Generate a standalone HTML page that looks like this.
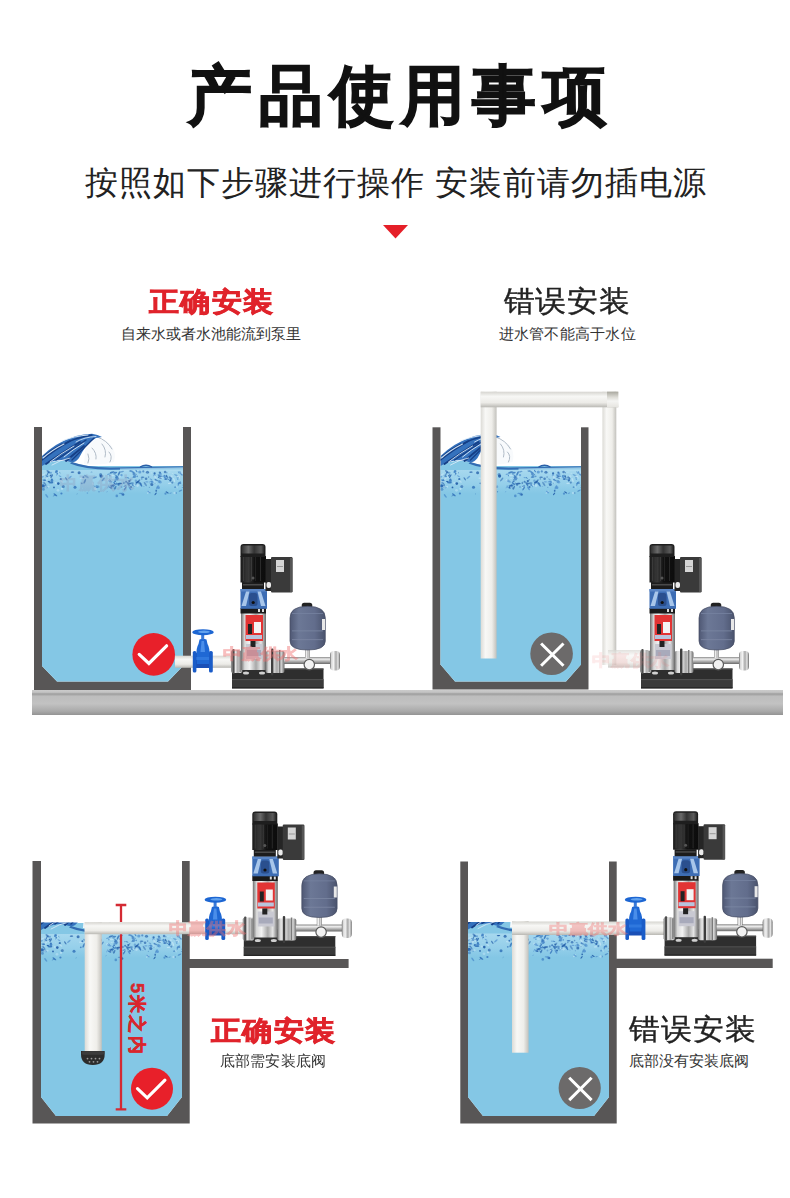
<!DOCTYPE html>
<html><head><meta charset="utf-8">
<style>
html,body{margin:0;padding:0;background:#fff;}
body{width:790px;height:1198px;position:relative;overflow:hidden;font-family:"Liberation Sans",sans-serif;}
.t{position:absolute;white-space:nowrap;line-height:1;transform-origin:0 0;}
#art{position:absolute;left:0;top:0;}
</style></head>
<body>
<svg id="art" width="790" height="1198" viewBox="0 0 790 1198">
<defs>
  <linearGradient id="slab" x1="0" y1="0" x2="0" y2="1">
    <stop offset="0" stop-color="#cbcbcb"/>
    <stop offset="0.09" stop-color="#c4c4c4"/>
    <stop offset="0.16" stop-color="#9d9d9d"/>
    <stop offset="0.25" stop-color="#bdbdbd"/>
    <stop offset="0.55" stop-color="#c2c2c2"/>
    <stop offset="0.85" stop-color="#a9a9a9"/>
    <stop offset="1" stop-color="#939393"/>
  </linearGradient>

  <linearGradient id="steelV" x1="0" y1="0" x2="1" y2="0">
    <stop offset="0" stop-color="#6e6e6e"/>
    <stop offset="0.15" stop-color="#d8d8d8"/>
    <stop offset="0.35" stop-color="#f2f2f2"/>
    <stop offset="0.6" stop-color="#a8a8a8"/>
    <stop offset="0.8" stop-color="#e6e6e6"/>
    <stop offset="1" stop-color="#6a6a6a"/>
  </linearGradient>
  <linearGradient id="steelH" x1="0" y1="0" x2="0" y2="1">
    <stop offset="0" stop-color="#8a8a8a"/>
    <stop offset="0.3" stop-color="#eeeeee"/>
    <stop offset="0.6" stop-color="#b5b5b5"/>
    <stop offset="1" stop-color="#6a6a6a"/>
  </linearGradient>
  <linearGradient id="pipeH" x1="0" y1="0" x2="0" y2="1">
    <stop offset="0" stop-color="#d6d5d0"/>
    <stop offset="0.3" stop-color="#f7f7f5"/>
    <stop offset="0.7" stop-color="#ecebe7"/>
    <stop offset="1" stop-color="#b9b8b3"/>
  </linearGradient>
  <linearGradient id="pipeV" x1="0" y1="0" x2="1" y2="0">
    <stop offset="0" stop-color="#dcdbd6"/>
    <stop offset="0.3" stop-color="#f8f8f6"/>
    <stop offset="0.7" stop-color="#efeeea"/>
    <stop offset="1" stop-color="#c2c1bc"/>
  </linearGradient>
  <linearGradient id="motorG" x1="0" y1="0" x2="1" y2="0">
    <stop offset="0" stop-color="#1a1a1a"/>
    <stop offset="0.3" stop-color="#3a3a3a"/>
    <stop offset="0.55" stop-color="#111"/>
    <stop offset="1" stop-color="#0c0c0c"/>
  </linearGradient>
  <linearGradient id="capG" x1="0" y1="0" x2="1" y2="0">
    <stop offset="0" stop-color="#2e2e2e"/>
    <stop offset="0.3" stop-color="#6a6a6a"/>
    <stop offset="0.55" stop-color="#333"/>
    <stop offset="0.85" stop-color="#5a5a5a"/>
    <stop offset="1" stop-color="#222"/>
  </linearGradient>
  <linearGradient id="tankG" x1="0" y1="0" x2="1" y2="0">
    <stop offset="0" stop-color="#4f5874"/>
    <stop offset="0.25" stop-color="#6c7896"/>
    <stop offset="0.7" stop-color="#626d8c"/>
    <stop offset="1" stop-color="#4a536d"/>
  </linearGradient>
  <linearGradient id="blueG" x1="0" y1="0" x2="1" y2="0">
    <stop offset="0" stop-color="#2d5a9c"/>
    <stop offset="0.25" stop-color="#7aa5dc"/>
    <stop offset="0.5" stop-color="#3a6ab0"/>
    <stop offset="0.75" stop-color="#7aa5dc"/>
    <stop offset="1" stop-color="#2d5a9c"/>
  </linearGradient>
  <linearGradient id="hazeG" x1="0" y1="0" x2="0" y2="1"><stop offset="0" stop-color="#c4e6f6" stop-opacity="0.55"/><stop offset="0.6" stop-color="#b4def3" stop-opacity="0.35"/><stop offset="1" stop-color="#a8d8f0" stop-opacity="0"/></linearGradient>
  <linearGradient id="elbowG" x1="0" y1="0" x2="0" y2="1"><stop offset="0" stop-color="#a9a89f"/><stop offset="0.35" stop-color="#dddcd6"/><stop offset="0.6" stop-color="#f4f4f2"/><stop offset="1" stop-color="#e6e5e0"/></linearGradient>
  <filter id="wmblur" x="-10%" y="-30%" width="120%" height="160%"><feGaussianBlur stdDeviation="0.7"/></filter>
  <clipPath id="clipTL"><rect x="42" y="427" width="141" height="263"/></clipPath>
  <clipPath id="clipTR"><rect x="440.5" y="427" width="140.5" height="263"/></clipPath>
  <clipPath id="clipBL"><rect x="41" y="922.5" width="141" height="194"/></clipPath>
  <clipPath id="clipBR"><rect x="468" y="922" width="141" height="194"/></clipPath>
<!--WAVEDEF--><g id="wave"><path d="M42,470 L42,465 Q50,461.5 61,460.5 Q70,461 78,464 Q90,467.5 110,468 L110,470 Z" fill="#84c7e5"/><path d="M86,440 Q100,436 110,444 Q117,452 114,462 Q100,466 84,464 Z" fill="#f8fafc"/><g fill="none" stroke="#9eabb9" stroke-width="1" stroke-linecap="round" opacity="0.8"><path d="M97,437 Q107,440 112,449"/><path d="M102,444 Q107,450 105,457"/><path d="M109,452 Q113,456 110,462"/><path d="M92,448 Q97,453 96,459"/><path d="M88,454 Q90,459 88,463"/></g><path d="M42,456 Q48,450 56,445 Q66,439 76,436 Q84,434 92,433.8 Q98,434.5 102,437 L96,438 Q90,441 86,446 Q82,452 79,458 Q76,462 72,462.5 Q66,460.5 61,460 Q51,460.5 42,466 Z" fill="#3572bd"/><g fill="none" stroke="#153f86" stroke-linecap="round"><path d="M42,460 Q54,450 70,441" stroke-width="1.6"/><path d="M46,464 Q60,454 80,442" stroke-width="1.8"/><path d="M56,460 Q68,452 86,440" stroke-width="1.4"/><path d="M62,445 Q74,438 92,435" stroke-width="1.3"/><path d="M66,461 Q74,454 84,446" stroke-width="1.8"/><path d="M72,460 Q80,452 94,438" stroke-width="1.3"/><path d="M44,456 Q52,449 62,444" stroke-width="1.2"/></g><g fill="none" stroke="#dcebf8" stroke-linecap="round" opacity="0.9"><path d="M43,458 Q52,450 64,444" stroke-width="1.1"/><path d="M50,462 Q60,454 74,446" stroke-width="1.0"/><path d="M62,441 Q74,436 88,435" stroke-width="1.0"/><path d="M64,457 Q72,450 84,443" stroke-width="1.0"/><path d="M76,442 Q84,437 96,436.5" stroke-width="0.9"/><path d="M52,465 Q60,460 70,458" stroke-width="0.9"/></g><path d="M72,462 Q86,467 110,467.6 L183,466.2 L183,468.4 L110,469.8 Q84,469.5 70,463.5 Z" fill="#2a63ad" opacity="0.9"/><path d="M120,468.4 L183,467.2 L183,470.5 L120,470.5 Z" fill="#a7d8ef" opacity="0.8"/><path d="M140,467 Q146,463.5 152,467" fill="none" stroke="#2a5fa8" stroke-width="1.3"/><rect x="42" y="470" width="141" height="24" fill="url(#hazeG)"/><g><circle cx="172.3" cy="482.6" r="1.1" fill="#1f5aa6" opacity="0.54"/><ellipse cx="109.1" cy="486.3" rx="1.2" ry="0.4" transform="rotate(43 109.1 486.3)" fill="#4f8fcf" opacity="0.59"/><circle cx="139.8" cy="472.0" r="1.6" fill="#4f8fcf" opacity="0.74"/><circle cx="116.5" cy="472.5" r="0.7" fill="#3a7cc2" opacity="0.72"/><circle cx="54.0" cy="487.4" r="0.9" fill="#1f5aa6" opacity="0.90"/><circle cx="141.8" cy="478.9" r="0.8" fill="#2563ad" opacity="0.46"/><circle cx="57.2" cy="473.7" r="0.8" fill="#2f6fb8" opacity="0.88"/><circle cx="42.1" cy="476.2" r="1.5" fill="#4f8fcf" opacity="0.62"/><ellipse cx="44.1" cy="481.3" rx="2.6" ry="0.9" transform="rotate(-62 44.1 481.3)" fill="#3a7cc2" opacity="0.56"/><circle cx="154.4" cy="475.4" r="1.1" fill="#4f8fcf" opacity="0.68"/><ellipse cx="150.5" cy="481.5" rx="1.6" ry="0.6" transform="rotate(-32 150.5 481.5)" fill="#4f8fcf" opacity="0.64"/><ellipse cx="166.8" cy="476.3" rx="1.6" ry="0.6" transform="rotate(69 166.8 476.3)" fill="#1f5aa6" opacity="0.74"/><ellipse cx="150.9" cy="479.2" rx="1.4" ry="0.5" transform="rotate(19 150.9 479.2)" fill="#2f6fb8" opacity="0.48"/><ellipse cx="44.2" cy="480.2" rx="2.0" ry="0.7" transform="rotate(10 44.2 480.2)" fill="#3a7cc2" opacity="0.88"/><ellipse cx="164.2" cy="475.6" rx="1.1" ry="0.4" transform="rotate(-43 164.2 475.6)" fill="#3a7cc2" opacity="0.82"/><circle cx="176.0" cy="493.1" r="1.0" fill="#2f6fb8" opacity="0.50"/><ellipse cx="169.6" cy="483.3" rx="1.8" ry="0.6" transform="rotate(-3 169.6 483.3)" fill="#bfe3f5" opacity="0.89"/><ellipse cx="134.1" cy="486.4" rx="1.0" ry="0.3" transform="rotate(-68 134.1 486.4)" fill="#3a7cc2" opacity="0.86"/><ellipse cx="50.5" cy="475.4" rx="1.5" ry="0.5" transform="rotate(-51 50.5 475.4)" fill="#1f5aa6" opacity="0.89"/><ellipse cx="145.3" cy="484.0" rx="2.6" ry="0.9" transform="rotate(57 145.3 484.0)" fill="#1f5aa6" opacity="0.47"/><ellipse cx="131.7" cy="483.1" rx="2.2" ry="0.8" transform="rotate(-7 131.7 483.1)" fill="#2563ad" opacity="0.51"/><circle cx="177.8" cy="479.5" r="0.6" fill="#4f8fcf" opacity="0.86"/><ellipse cx="130.1" cy="480.6" rx="1.9" ry="0.7" transform="rotate(-54 130.1 480.6)" fill="#1f5aa6" opacity="0.48"/><ellipse cx="115.1" cy="483.9" rx="1.4" ry="0.5" transform="rotate(28 115.1 483.9)" fill="#2f6fb8" opacity="0.67"/><ellipse cx="112.1" cy="486.4" rx="2.6" ry="0.9" transform="rotate(-50 112.1 486.4)" fill="#2563ad" opacity="0.85"/><ellipse cx="128.3" cy="484.0" rx="2.3" ry="0.8" transform="rotate(55 128.3 484.0)" fill="#2563ad" opacity="0.75"/><ellipse cx="155.6" cy="493.9" rx="1.6" ry="0.6" transform="rotate(-51 155.6 493.9)" fill="#1f5aa6" opacity="0.86"/><ellipse cx="91.5" cy="472.0" rx="1.0" ry="0.3" transform="rotate(-4 91.5 472.0)" fill="#2563ad" opacity="0.82"/><ellipse cx="115.3" cy="487.8" rx="2.2" ry="0.8" transform="rotate(-66 115.3 487.8)" fill="#1f5aa6" opacity="0.65"/><circle cx="165.1" cy="472.0" r="1.3" fill="#1f5aa6" opacity="0.61"/><circle cx="121.5" cy="487.0" r="0.9" fill="#3a7cc2" opacity="0.46"/><circle cx="48.6" cy="486.7" r="1.0" fill="#bfe3f5" opacity="0.69"/><ellipse cx="69.9" cy="477.4" rx="2.2" ry="0.8" transform="rotate(-38 69.9 477.4)" fill="#4f8fcf" opacity="0.69"/><circle cx="151.8" cy="484.5" r="1.5" fill="#1f5aa6" opacity="0.73"/><circle cx="170.3" cy="480.4" r="1.1" fill="#1f5aa6" opacity="0.81"/><ellipse cx="157.4" cy="487.0" rx="2.2" ry="0.8" transform="rotate(-58 157.4 487.0)" fill="#3a7cc2" opacity="0.56"/><circle cx="143.3" cy="471.4" r="1.1" fill="#2f6fb8" opacity="0.65"/><ellipse cx="150.3" cy="483.2" rx="0.9" ry="0.3" transform="rotate(5 150.3 483.2)" fill="#2f6fb8" opacity="0.64"/><ellipse cx="137.6" cy="482.0" rx="2.5" ry="0.9" transform="rotate(-39 137.6 482.0)" fill="#1f5aa6" opacity="0.88"/><circle cx="116.3" cy="478.3" r="1.3" fill="#bfe3f5" opacity="0.52"/><circle cx="169.9" cy="477.4" r="1.2" fill="#1f5aa6" opacity="0.54"/><ellipse cx="178.6" cy="484.1" rx="1.9" ry="0.7" transform="rotate(-69 178.6 484.1)" fill="#3a7cc2" opacity="0.63"/><circle cx="181.5" cy="474.0" r="0.6" fill="#3a7cc2" opacity="0.48"/><ellipse cx="108.7" cy="474.2" rx="1.7" ry="0.6" transform="rotate(-11 108.7 474.2)" fill="#4f8fcf" opacity="0.69"/><ellipse cx="46.1" cy="477.5" rx="2.2" ry="0.8" transform="rotate(-68 46.1 477.5)" fill="#2f6fb8" opacity="0.47"/><ellipse cx="112.5" cy="485.6" rx="2.4" ry="0.9" transform="rotate(4 112.5 485.6)" fill="#1f5aa6" opacity="0.56"/><circle cx="131.0" cy="487.0" r="1.1" fill="#1f5aa6" opacity="0.73"/><ellipse cx="86.4" cy="476.5" rx="2.7" ry="1.0" transform="rotate(32 86.4 476.5)" fill="#2f6fb8" opacity="0.51"/><circle cx="159.3" cy="481.5" r="1.4" fill="#3a7cc2" opacity="0.54"/><circle cx="154.6" cy="473.4" r="1.1" fill="#2563ad" opacity="0.86"/><circle cx="58.3" cy="483.6" r="1.3" fill="#1f5aa6" opacity="0.90"/><circle cx="155.2" cy="483.1" r="0.5" fill="#1f5aa6" opacity="0.73"/><circle cx="109.9" cy="475.7" r="0.6" fill="#3a7cc2" opacity="0.83"/><circle cx="172.7" cy="473.4" r="0.6" fill="#bfe3f5" opacity="0.66"/><ellipse cx="114.7" cy="481.8" rx="2.0" ry="0.7" transform="rotate(-42 114.7 481.8)" fill="#2f6fb8" opacity="0.74"/><ellipse cx="94.2" cy="486.1" rx="1.0" ry="0.4" transform="rotate(48 94.2 486.1)" fill="#2f6fb8" opacity="0.60"/><circle cx="165.5" cy="493.7" r="1.1" fill="#3a7cc2" opacity="0.68"/><ellipse cx="155.5" cy="477.5" rx="2.6" ry="0.9" transform="rotate(61 155.5 477.5)" fill="#bfe3f5" opacity="0.78"/><circle cx="60.8" cy="479.2" r="1.1" fill="#2563ad" opacity="0.80"/><circle cx="51.9" cy="479.5" r="1.0" fill="#2f6fb8" opacity="0.85"/><ellipse cx="169.3" cy="472.2" rx="1.4" ry="0.5" transform="rotate(-13 169.3 472.2)" fill="#bfe3f5" opacity="0.58"/><circle cx="114.6" cy="483.4" r="0.7" fill="#2f6fb8" opacity="0.79"/><circle cx="45.2" cy="486.4" r="1.3" fill="#2563ad" opacity="0.65"/><circle cx="149.3" cy="487.2" r="0.5" fill="#2563ad" opacity="0.56"/><ellipse cx="119.6" cy="483.7" rx="2.7" ry="0.9" transform="rotate(-8 119.6 483.7)" fill="#1f5aa6" opacity="0.83"/><circle cx="132.9" cy="484.7" r="1.2" fill="#2f6fb8" opacity="0.62"/><circle cx="126.1" cy="481.7" r="1.0" fill="#2563ad" opacity="0.69"/><ellipse cx="134.4" cy="485.0" rx="1.4" ry="0.5" transform="rotate(38 134.4 485.0)" fill="#bfe3f5" opacity="0.79"/><circle cx="124.6" cy="486.8" r="0.9" fill="#bfe3f5" opacity="0.63"/><circle cx="147.5" cy="472.3" r="1.6" fill="#2563ad" opacity="0.48"/><ellipse cx="179.2" cy="477.1" rx="1.8" ry="0.6" transform="rotate(64 179.2 477.1)" fill="#bfe3f5" opacity="0.86"/><ellipse cx="49.1" cy="481.4" rx="1.1" ry="0.4" transform="rotate(-19 49.1 481.4)" fill="#2f6fb8" opacity="0.61"/><ellipse cx="61.7" cy="481.4" rx="2.0" ry="0.7" transform="rotate(39 61.7 481.4)" fill="#bfe3f5" opacity="0.71"/><circle cx="116.8" cy="495.9" r="1.3" fill="#3a7cc2" opacity="0.67"/><circle cx="161.4" cy="477.9" r="1.2" fill="#bfe3f5" opacity="0.70"/><ellipse cx="77.1" cy="493.9" rx="0.9" ry="0.3" transform="rotate(-66 77.1 493.9)" fill="#2f6fb8" opacity="0.45"/><ellipse cx="47.4" cy="476.6" rx="1.4" ry="0.5" transform="rotate(-37 47.4 476.6)" fill="#2f6fb8" opacity="0.86"/><circle cx="180.4" cy="483.1" r="0.9" fill="#2563ad" opacity="0.60"/><circle cx="160.2" cy="472.9" r="0.6" fill="#1f5aa6" opacity="0.83"/><ellipse cx="63.6" cy="485.9" rx="1.4" ry="0.5" transform="rotate(22 63.6 485.9)" fill="#bfe3f5" opacity="0.82"/><circle cx="123.9" cy="482.6" r="0.9" fill="#1f5aa6" opacity="0.49"/><circle cx="151.3" cy="472.9" r="0.7" fill="#bfe3f5" opacity="0.72"/><ellipse cx="166.3" cy="476.5" rx="2.1" ry="0.7" transform="rotate(29 166.3 476.5)" fill="#2563ad" opacity="0.61"/><circle cx="122.3" cy="494.0" r="1.5" fill="#4f8fcf" opacity="0.69"/><circle cx="137.5" cy="485.6" r="1.4" fill="#bfe3f5" opacity="0.70"/><ellipse cx="45.1" cy="483.9" rx="1.9" ry="0.7" transform="rotate(48 45.1 483.9)" fill="#1f5aa6" opacity="0.58"/><circle cx="56.9" cy="478.8" r="0.5" fill="#bfe3f5" opacity="0.51"/><ellipse cx="133.5" cy="477.1" rx="1.3" ry="0.4" transform="rotate(-21 133.5 477.1)" fill="#1f5aa6" opacity="0.60"/><circle cx="155.8" cy="479.3" r="0.7" fill="#4f8fcf" opacity="0.69"/><circle cx="158.5" cy="487.7" r="1.4" fill="#4f8fcf" opacity="0.83"/><ellipse cx="177.0" cy="487.0" rx="1.8" ry="0.6" transform="rotate(59 177.0 487.0)" fill="#bfe3f5" opacity="0.45"/><ellipse cx="171.1" cy="477.1" rx="1.2" ry="0.4" transform="rotate(-41 171.1 477.1)" fill="#bfe3f5" opacity="0.62"/><ellipse cx="178.7" cy="472.5" rx="1.4" ry="0.5" transform="rotate(59 178.7 472.5)" fill="#2f6fb8" opacity="0.59"/><ellipse cx="125.0" cy="486.0" rx="1.7" ry="0.6" transform="rotate(-31 125.0 486.0)" fill="#1f5aa6" opacity="0.55"/><ellipse cx="66.3" cy="478.8" rx="1.9" ry="0.7" transform="rotate(54 66.3 478.8)" fill="#1f5aa6" opacity="0.67"/><ellipse cx="170.9" cy="479.6" rx="1.9" ry="0.7" transform="rotate(-63 170.9 479.6)" fill="#2f6fb8" opacity="0.67"/><ellipse cx="116.4" cy="483.9" rx="1.4" ry="0.5" transform="rotate(-68 116.4 483.9)" fill="#2f6fb8" opacity="0.75"/><circle cx="108.6" cy="480.3" r="1.4" fill="#bfe3f5" opacity="0.64"/><circle cx="100.6" cy="474.6" r="1.5" fill="#1f5aa6" opacity="0.51"/><ellipse cx="129.3" cy="483.9" rx="0.9" ry="0.3" transform="rotate(45 129.3 483.9)" fill="#1f5aa6" opacity="0.80"/><circle cx="55.7" cy="483.0" r="1.0" fill="#bfe3f5" opacity="0.71"/><ellipse cx="84.8" cy="481.4" rx="2.6" ry="0.9" transform="rotate(-65 84.8 481.4)" fill="#2f6fb8" opacity="0.80"/><ellipse cx="182.6" cy="487.7" rx="1.0" ry="0.3" transform="rotate(-15 182.6 487.7)" fill="#2f6fb8" opacity="0.76"/><ellipse cx="107.1" cy="491.7" rx="0.9" ry="0.3" transform="rotate(-29 107.1 491.7)" fill="#4f8fcf" opacity="0.77"/><circle cx="58.0" cy="490.3" r="1.4" fill="#bfe3f5" opacity="0.54"/><ellipse cx="118.1" cy="478.5" rx="1.5" ry="0.5" transform="rotate(-44 118.1 478.5)" fill="#4f8fcf" opacity="0.70"/><ellipse cx="108.2" cy="487.0" rx="1.7" ry="0.6" transform="rotate(-57 108.2 487.0)" fill="#4f8fcf" opacity="0.49"/><circle cx="98.7" cy="485.8" r="0.6" fill="#3a7cc2" opacity="0.46"/><ellipse cx="103.2" cy="479.5" rx="2.4" ry="0.8" transform="rotate(-49 103.2 479.5)" fill="#1f5aa6" opacity="0.51"/><ellipse cx="139.5" cy="483.1" rx="2.6" ry="0.9" transform="rotate(28 139.5 483.1)" fill="#1f5aa6" opacity="0.46"/><ellipse cx="180.5" cy="490.7" rx="2.0" ry="0.7" transform="rotate(-27 180.5 490.7)" fill="#2f6fb8" opacity="0.57"/><ellipse cx="142.6" cy="477.3" rx="1.9" ry="0.7" transform="rotate(0 142.6 477.3)" fill="#2563ad" opacity="0.70"/><circle cx="62.0" cy="488.8" r="1.1" fill="#bfe3f5" opacity="0.77"/><ellipse cx="122.0" cy="471.7" rx="2.1" ry="0.7" transform="rotate(-12 122.0 471.7)" fill="#2f6fb8" opacity="0.51"/><ellipse cx="165.0" cy="477.7" rx="2.5" ry="0.9" transform="rotate(57 165.0 477.7)" fill="#4f8fcf" opacity="0.89"/><circle cx="118.6" cy="485.0" r="1.1" fill="#2563ad" opacity="0.53"/><circle cx="168.5" cy="479.4" r="0.7" fill="#2f6fb8" opacity="0.58"/><ellipse cx="159.1" cy="475.6" rx="1.9" ry="0.7" transform="rotate(40 159.1 475.6)" fill="#2f6fb8" opacity="0.65"/><ellipse cx="148.6" cy="492.2" rx="2.0" ry="0.7" transform="rotate(-42 148.6 492.2)" fill="#bfe3f5" opacity="0.81"/><ellipse cx="47.3" cy="487.8" rx="1.1" ry="0.4" transform="rotate(-12 47.3 487.8)" fill="#4f8fcf" opacity="0.72"/><ellipse cx="130.0" cy="488.2" rx="2.3" ry="0.8" transform="rotate(57 130.0 488.2)" fill="#4f8fcf" opacity="0.85"/><circle cx="115.4" cy="481.5" r="0.5" fill="#2f6fb8" opacity="0.58"/><circle cx="87.4" cy="493.1" r="0.8" fill="#4f8fcf" opacity="0.56"/><circle cx="179.1" cy="482.9" r="0.6" fill="#3a7cc2" opacity="0.70"/><circle cx="174.6" cy="493.0" r="1.3" fill="#bfe3f5" opacity="0.62"/><circle cx="121.5" cy="475.1" r="1.2" fill="#4f8fcf" opacity="0.71"/><ellipse cx="48.5" cy="471.8" rx="2.5" ry="0.9" transform="rotate(39 48.5 471.8)" fill="#2563ad" opacity="0.60"/><ellipse cx="117.2" cy="476.9" rx="2.6" ry="0.9" transform="rotate(44 117.2 476.9)" fill="#2f6fb8" opacity="0.74"/><circle cx="177.6" cy="477.8" r="1.0" fill="#3a7cc2" opacity="0.60"/><circle cx="151.8" cy="481.4" r="0.7" fill="#2563ad" opacity="0.50"/><ellipse cx="112.7" cy="478.4" rx="1.4" ry="0.5" transform="rotate(2 112.7 478.4)" fill="#bfe3f5" opacity="0.69"/><circle cx="136.2" cy="482.6" r="0.6" fill="#1f5aa6" opacity="0.48"/><ellipse cx="43.0" cy="485.7" rx="1.9" ry="0.7" transform="rotate(-30 43.0 485.7)" fill="#4f8fcf" opacity="0.81"/><circle cx="148.6" cy="477.1" r="0.8" fill="#1f5aa6" opacity="0.46"/><circle cx="63.3" cy="486.5" r="1.5" fill="#1f5aa6" opacity="0.62"/><ellipse cx="112.5" cy="475.5" rx="1.9" ry="0.7" transform="rotate(-2 112.5 475.5)" fill="#bfe3f5" opacity="0.86"/><circle cx="46.5" cy="478.3" r="1.4" fill="#bfe3f5" opacity="0.76"/><ellipse cx="176.2" cy="475.3" rx="2.3" ry="0.8" transform="rotate(24 176.2 475.3)" fill="#3a7cc2" opacity="0.50"/><ellipse cx="119.2" cy="477.4" rx="2.2" ry="0.8" transform="rotate(-39 119.2 477.4)" fill="#bfe3f5" opacity="0.56"/><ellipse cx="123.8" cy="483.5" rx="0.9" ry="0.3" transform="rotate(-7 123.8 483.5)" fill="#1f5aa6" opacity="0.89"/><ellipse cx="166.2" cy="479.1" rx="2.0" ry="0.7" transform="rotate(-8 166.2 479.1)" fill="#1f5aa6" opacity="0.67"/><circle cx="79.1" cy="472.8" r="1.5" fill="#1f5aa6" opacity="0.74"/><ellipse cx="143.8" cy="486.6" rx="1.0" ry="0.3" transform="rotate(17 143.8 486.6)" fill="#4f8fcf" opacity="0.47"/><circle cx="116.1" cy="477.6" r="1.1" fill="#2f6fb8" opacity="0.74"/><ellipse cx="112.1" cy="487.5" rx="2.0" ry="0.7" transform="rotate(-19 112.1 487.5)" fill="#4f8fcf" opacity="0.48"/><ellipse cx="72.5" cy="472.1" rx="1.8" ry="0.6" transform="rotate(-6 72.5 472.1)" fill="#1f5aa6" opacity="0.89"/><ellipse cx="147.0" cy="472.0" rx="1.3" ry="0.5" transform="rotate(-28 147.0 472.0)" fill="#1f5aa6" opacity="0.51"/><ellipse cx="46.8" cy="495.9" rx="2.2" ry="0.8" transform="rotate(50 46.8 495.9)" fill="#3a7cc2" opacity="0.58"/><ellipse cx="170.6" cy="493.1" rx="1.2" ry="0.4" transform="rotate(-17 170.6 493.1)" fill="#4f8fcf" opacity="0.87"/><ellipse cx="48.9" cy="481.5" rx="1.3" ry="0.5" transform="rotate(-14 48.9 481.5)" fill="#1f5aa6" opacity="0.81"/><ellipse cx="111.1" cy="486.7" rx="1.2" ry="0.4" transform="rotate(-60 111.1 486.7)" fill="#4f8fcf" opacity="0.54"/><circle cx="139.5" cy="480.1" r="0.8" fill="#2f6fb8" opacity="0.68"/><ellipse cx="114.2" cy="485.2" rx="2.1" ry="0.7" transform="rotate(-49 114.2 485.2)" fill="#3a7cc2" opacity="0.57"/><ellipse cx="174.1" cy="480.0" rx="2.3" ry="0.8" transform="rotate(70 174.1 480.0)" fill="#bfe3f5" opacity="0.83"/><circle cx="160.3" cy="482.2" r="1.4" fill="#4f8fcf" opacity="0.60"/><ellipse cx="115.2" cy="472.4" rx="1.6" ry="0.6" transform="rotate(2 115.2 472.4)" fill="#3a7cc2" opacity="0.67"/><ellipse cx="60.0" cy="476.2" rx="1.6" ry="0.6" transform="rotate(29 60.0 476.2)" fill="#4f8fcf" opacity="0.69"/><ellipse cx="135.9" cy="474.7" rx="1.2" ry="0.4" transform="rotate(-51 135.9 474.7)" fill="#2563ad" opacity="0.69"/><ellipse cx="114.9" cy="479.9" rx="1.0" ry="0.4" transform="rotate(-64 114.9 479.9)" fill="#2563ad" opacity="0.61"/><circle cx="45.5" cy="486.8" r="1.1" fill="#bfe3f5" opacity="0.58"/><circle cx="171.6" cy="476.4" r="1.3" fill="#bfe3f5" opacity="0.50"/><ellipse cx="94.8" cy="477.5" rx="2.3" ry="0.8" transform="rotate(-16 94.8 477.5)" fill="#2f6fb8" opacity="0.63"/><ellipse cx="140.9" cy="484.8" rx="2.2" ry="0.8" transform="rotate(57 140.9 484.8)" fill="#2f6fb8" opacity="0.86"/><circle cx="170.7" cy="477.8" r="0.9" fill="#1f5aa6" opacity="0.58"/><circle cx="166.9" cy="472.8" r="0.5" fill="#2563ad" opacity="0.85"/><circle cx="123.2" cy="494.6" r="1.2" fill="#1f5aa6" opacity="0.69"/><circle cx="51.0" cy="472.7" r="1.0" fill="#4f8fcf" opacity="0.62"/><ellipse cx="47.4" cy="474.4" rx="1.8" ry="0.6" transform="rotate(-67 47.4 474.4)" fill="#2563ad" opacity="0.67"/><ellipse cx="127.4" cy="477.7" rx="1.3" ry="0.5" transform="rotate(6 127.4 477.7)" fill="#3a7cc2" opacity="0.56"/><circle cx="111.6" cy="487.3" r="1.1" fill="#1f5aa6" opacity="0.82"/><circle cx="56.6" cy="471.5" r="1.4" fill="#3a7cc2" opacity="0.76"/><ellipse cx="129.6" cy="483.3" rx="1.9" ry="0.7" transform="rotate(24 129.6 483.3)" fill="#2563ad" opacity="0.64"/><circle cx="112.3" cy="487.2" r="0.9" fill="#bfe3f5" opacity="0.53"/><ellipse cx="59.8" cy="472.6" rx="1.0" ry="0.3" transform="rotate(49 59.8 472.6)" fill="#2f6fb8" opacity="0.85"/><circle cx="114.2" cy="488.0" r="0.5" fill="#1f5aa6" opacity="0.84"/><circle cx="49.5" cy="477.3" r="1.1" fill="#bfe3f5" opacity="0.63"/><ellipse cx="149.1" cy="492.1" rx="1.9" ry="0.7" transform="rotate(34 149.1 492.1)" fill="#4f8fcf" opacity="0.74"/><ellipse cx="179.3" cy="482.8" rx="2.1" ry="0.8" transform="rotate(-35 179.3 482.8)" fill="#3a7cc2" opacity="0.57"/><circle cx="135.9" cy="480.7" r="1.2" fill="#3a7cc2" opacity="0.47"/><circle cx="58.7" cy="472.1" r="0.8" fill="#bfe3f5" opacity="0.69"/><circle cx="99.0" cy="491.8" r="0.7" fill="#2f6fb8" opacity="0.59"/><ellipse cx="160.3" cy="478.1" rx="1.6" ry="0.6" transform="rotate(11 160.3 478.1)" fill="#1f5aa6" opacity="0.63"/><circle cx="137.2" cy="476.4" r="0.8" fill="#3a7cc2" opacity="0.65"/><ellipse cx="120.4" cy="493.4" rx="1.7" ry="0.6" transform="rotate(9 120.4 493.4)" fill="#3a7cc2" opacity="0.60"/><ellipse cx="110.0" cy="480.1" rx="1.3" ry="0.5" transform="rotate(36 110.0 480.1)" fill="#2f6fb8" opacity="0.52"/><ellipse cx="136.5" cy="471.1" rx="1.5" ry="0.5" transform="rotate(51 136.5 471.1)" fill="#3a7cc2" opacity="0.90"/><ellipse cx="110.3" cy="481.4" rx="2.4" ry="0.8" transform="rotate(16 110.3 481.4)" fill="#4f8fcf" opacity="0.70"/><circle cx="158.6" cy="477.3" r="0.7" fill="#2563ad" opacity="0.84"/><ellipse cx="45.8" cy="475.2" rx="1.1" ry="0.4" transform="rotate(8 45.8 475.2)" fill="#2f6fb8" opacity="0.57"/><ellipse cx="50.9" cy="482.6" rx="2.5" ry="0.9" transform="rotate(4 50.9 482.6)" fill="#2f6fb8" opacity="0.88"/><circle cx="156.2" cy="490.8" r="0.9" fill="#1f5aa6" opacity="0.82"/><ellipse cx="181.0" cy="473.5" rx="2.6" ry="0.9" transform="rotate(56 181.0 473.5)" fill="#4f8fcf" opacity="0.83"/><ellipse cx="129.9" cy="471.2" rx="1.1" ry="0.4" transform="rotate(22 129.9 471.2)" fill="#2563ad" opacity="0.62"/><ellipse cx="156.3" cy="480.1" rx="2.0" ry="0.7" transform="rotate(21 156.3 480.1)" fill="#2563ad" opacity="0.59"/><circle cx="125.8" cy="477.6" r="0.7" fill="#3a7cc2" opacity="0.55"/><ellipse cx="56.9" cy="474.6" rx="1.5" ry="0.5" transform="rotate(-63 56.9 474.6)" fill="#4f8fcf" opacity="0.46"/><ellipse cx="55.4" cy="494.8" rx="2.3" ry="0.8" transform="rotate(36 55.4 494.8)" fill="#2f6fb8" opacity="0.85"/><circle cx="177.7" cy="476.5" r="0.9" fill="#bfe3f5" opacity="0.85"/><circle cx="51.9" cy="480.8" r="1.5" fill="#3a7cc2" opacity="0.80"/><circle cx="43.4" cy="489.3" r="1.5" fill="#2f6fb8" opacity="0.55"/><ellipse cx="167.2" cy="492.4" rx="1.8" ry="0.6" transform="rotate(33 167.2 492.4)" fill="#1f5aa6" opacity="0.87"/><ellipse cx="146.9" cy="481.9" rx="1.7" ry="0.6" transform="rotate(6 146.9 481.9)" fill="#4f8fcf" opacity="0.68"/><circle cx="48.5" cy="472.4" r="0.9" fill="#1f5aa6" opacity="0.66"/><circle cx="146.1" cy="478.8" r="1.3" fill="#1f5aa6" opacity="0.63"/><circle cx="75.0" cy="487.2" r="1.5" fill="#2f6fb8" opacity="0.81"/><circle cx="182.1" cy="472.6" r="1.5" fill="#bfe3f5" opacity="0.60"/><ellipse cx="44.0" cy="481.7" rx="1.8" ry="0.6" transform="rotate(-8 44.0 481.7)" fill="#bfe3f5" opacity="0.56"/><ellipse cx="112.0" cy="472.4" rx="2.5" ry="0.9" transform="rotate(-19 112.0 472.4)" fill="#2f6fb8" opacity="0.81"/><ellipse cx="56.1" cy="471.9" rx="1.5" ry="0.5" transform="rotate(-45 56.1 471.9)" fill="#3a7cc2" opacity="0.83"/><circle cx="96.8" cy="486.4" r="1.5" fill="#2f6fb8" opacity="0.49"/><circle cx="117.0" cy="478.9" r="1.6" fill="#3a7cc2" opacity="0.70"/><circle cx="95.3" cy="488.5" r="1.5" fill="#bfe3f5" opacity="0.72"/><ellipse cx="139.8" cy="482.7" rx="1.1" ry="0.4" transform="rotate(17 139.8 482.7)" fill="#2f6fb8" opacity="0.57"/><ellipse cx="51.7" cy="476.1" rx="2.2" ry="0.8" transform="rotate(-60 51.7 476.1)" fill="#2563ad" opacity="0.80"/><ellipse cx="128.4" cy="478.0" rx="1.1" ry="0.4" transform="rotate(29 128.4 478.0)" fill="#2f6fb8" opacity="0.87"/><ellipse cx="82.2" cy="478.2" rx="2.4" ry="0.9" transform="rotate(-3 82.2 478.2)" fill="#bfe3f5" opacity="0.74"/><circle cx="124.4" cy="487.5" r="0.8" fill="#bfe3f5" opacity="0.76"/><ellipse cx="119.0" cy="473.5" rx="2.5" ry="0.9" transform="rotate(-66 119.0 473.5)" fill="#2f6fb8" opacity="0.81"/><ellipse cx="125.2" cy="488.4" rx="2.4" ry="0.8" transform="rotate(-60 125.2 488.4)" fill="#2f6fb8" opacity="0.75"/><circle cx="109.6" cy="487.3" r="0.6" fill="#3a7cc2" opacity="0.89"/><ellipse cx="97.7" cy="487.2" rx="2.2" ry="0.8" transform="rotate(-14 97.7 487.2)" fill="#2f6fb8" opacity="0.48"/><circle cx="134.5" cy="476.5" r="1.6" fill="#3a7cc2" opacity="0.67"/><circle cx="114.7" cy="473.4" r="1.4" fill="#2f6fb8" opacity="0.53"/><ellipse cx="156.4" cy="489.3" rx="1.1" ry="0.4" transform="rotate(-19 156.4 489.3)" fill="#4f8fcf" opacity="0.52"/><ellipse cx="182.8" cy="485.1" rx="1.0" ry="0.3" transform="rotate(2 182.8 485.1)" fill="#3a7cc2" opacity="0.51"/><circle cx="83.4" cy="477.2" r="1.0" fill="#2f6fb8" opacity="0.90"/><circle cx="61.4" cy="493.5" r="1.1" fill="#3a7cc2" opacity="0.89"/><ellipse cx="43.5" cy="474.8" rx="2.4" ry="0.8" transform="rotate(-29 43.5 474.8)" fill="#bfe3f5" opacity="0.78"/><circle cx="129.2" cy="481.1" r="1.0" fill="#1f5aa6" opacity="0.74"/><circle cx="48.5" cy="481.4" r="0.6" fill="#2563ad" opacity="0.69"/><circle cx="101.1" cy="476.1" r="1.6" fill="#1f5aa6" opacity="0.88"/><circle cx="159.8" cy="472.5" r="1.1" fill="#1f5aa6" opacity="0.60"/><ellipse cx="92.7" cy="484.0" rx="1.8" ry="0.6" transform="rotate(65 92.7 484.0)" fill="#bfe3f5" opacity="0.45"/><circle cx="43.0" cy="485.8" r="1.6" fill="#2563ad" opacity="0.88"/><ellipse cx="160.5" cy="476.2" rx="2.3" ry="0.8" transform="rotate(2 160.5 476.2)" fill="#2f6fb8" opacity="0.59"/><circle cx="148.3" cy="472.3" r="0.6" fill="#2563ad" opacity="0.72"/><circle cx="175.1" cy="487.2" r="0.9" fill="#2f6fb8" opacity="0.58"/><ellipse cx="54.1" cy="495.6" rx="1.5" ry="0.5" transform="rotate(-30 54.1 495.6)" fill="#2563ad" opacity="0.52"/><circle cx="81.8" cy="483.3" r="0.9" fill="#2f6fb8" opacity="0.70"/><ellipse cx="132.1" cy="471.6" rx="2.6" ry="0.9" transform="rotate(33 132.1 471.6)" fill="#3a7cc2" opacity="0.71"/><circle cx="152.2" cy="482.0" r="1.3" fill="#4f8fcf" opacity="0.79"/><ellipse cx="155.0" cy="482.1" rx="2.5" ry="0.9" transform="rotate(47 155.0 482.1)" fill="#bfe3f5" opacity="0.48"/><circle cx="135.9" cy="484.7" r="0.6" fill="#2f6fb8" opacity="0.63"/><circle cx="134.0" cy="473.8" r="1.5" fill="#2f6fb8" opacity="0.64"/><circle cx="160.3" cy="474.1" r="1.5" fill="#4f8fcf" opacity="0.63"/></g></g><!--/WAVEDEF-->
  <g id="pump">
    <!-- base plate -->
    <rect x="232" y="668.5" width="91.5" height="19.8" fill="#2e2e2e"/>
    <rect x="232" y="668.5" width="91.5" height="1.2" fill="#4a4a4a"/>
    <rect x="232" y="679.5" width="91.5" height="8.8" fill="#3a3a3a"/>
    <rect x="232" y="679.2" width="91.5" height="0.9" fill="#555"/>
    <rect x="232" y="687.3" width="91.5" height="1" fill="#222"/>
    <!-- feet -->
    <rect x="238" y="662" width="8" height="8" fill="#2a2a2a"/>
    <rect x="261" y="662" width="8" height="8" fill="#2a2a2a"/>
    <rect x="272" y="660" width="6" height="10" fill="#1c1c1c"/>
    <!-- left inlet flange -->
    <rect x="231" y="650" width="11.5" height="23" rx="2" fill="url(#steelV)"/>
    <rect x="232.3" y="649" width="2.3" height="25" rx="1" fill="#4e4e4e"/>
    <rect x="239.5" y="651" width="1.4" height="21" fill="#808080"/>
    <!-- column -->
    <rect x="241" y="613" width="25" height="57" fill="url(#steelV)"/>
    <!-- red label -->
    <rect x="245.5" y="615" width="17.5" height="26" fill="#e23434"/>
    <rect x="254" y="622" width="7" height="11" fill="#f4f4f4"/>
    <rect x="248" y="624" width="4" height="10" fill="#222"/>
    <rect x="246" y="635" width="16" height="4" fill="#b8c4dc"/>
    <!-- lower label -->
    <rect x="246" y="644" width="16.5" height="15" fill="#c9c9d2"/>
    <rect x="250.5" y="641" width="5" height="6" fill="#222"/>
    <rect x="247" y="650" width="14" height="6" fill="#a8aabb"/>
    <!-- black band -->
    <rect x="240.5" y="608" width="25.5" height="5.5" fill="#1a1a1a"/>
    <rect x="258" y="609" width="2" height="3" fill="#ddd"/>
    <rect x="262" y="609" width="2" height="3" fill="#ddd"/>
    <!-- blue head -->
    <rect x="240.5" y="589" width="26.5" height="19.8" fill="#3d6db4"/>
    <rect x="240.5" y="589" width="26.5" height="2.5" fill="#5a86c6"/>
    <polygon points="241.5,606 246,591.5 249.5,591.5 246,606" fill="#a8c6ea"/>
    <polygon points="265.5,606 261,591.5 257.5,591.5 261,606" fill="#a8c6ea"/>
    <rect x="249" y="593" width="8.5" height="13" rx="2.5" fill="#2a4f8e"/>
    <circle cx="253.2" cy="602.5" r="1.6" fill="#111"/>
    <!-- motor flange -->
    <rect x="242" y="582" width="22" height="7" fill="#1c1c1c"/>
    <rect x="243" y="584" width="20" height="1.5" fill="#4a4a4a"/>
    <!-- motor body with fins -->
    <rect x="240.5" y="556" width="25.5" height="26.5" fill="url(#motorG)"/>
    <rect x="243" y="557" width="1" height="24" fill="#3a3a3a"/>
    <rect x="247" y="557" width="1" height="24" fill="#333"/>
    <rect x="251" y="557" width="1" height="24" fill="#3a3a3a"/>
    <rect x="255" y="557" width="1" height="24" fill="#222"/>
    <rect x="260" y="557" width="1" height="24" fill="#2a2a2a"/>
    <circle cx="253" cy="578" r="1.5" fill="#555"/>
    <!-- motor cap -->
    <path d="M240.5,557 L240.5,547 Q240.5,544 243.5,544 L262.5,544 Q265.5,544 265.5,547 L265.5,557 Z" fill="#1e1e1e"/>
    <rect x="241.5" y="545.5" width="23" height="8" rx="1" fill="url(#capG)"/>
    <!-- junction -->
    <rect x="265.5" y="559" width="6" height="32" fill="#252525"/>
    <rect x="266.5" y="582" width="4.5" height="6" rx="2" fill="#eaeaea"/>
    <!-- control box -->
    <rect x="271" y="557" width="21.5" height="35.5" rx="1" fill="#3a3a3a"/>
    <rect x="290" y="558" width="2.5" height="34" fill="#555"/>
    <rect x="276" y="560" width="8" height="12" fill="#d6d6d6"/>
    <rect x="277" y="566" width="6" height="1" fill="#999"/>
    <!-- outlet flanges -->
    <rect x="265.5" y="651" width="19" height="22" rx="2" fill="url(#steelV)"/>
    <rect x="271" y="648.5" width="2.4" height="27" rx="1" fill="#3e3e3e"/>
    <rect x="279" y="650" width="1.5" height="23" fill="#7a7a7a"/>
    <ellipse cx="246" cy="673" rx="3" ry="1.5" fill="#d0d0d0"/>
    <ellipse cx="262" cy="673" rx="3" ry="1.5" fill="#d0d0d0"/>
    <!-- horizontal pipe -->
    <rect x="284" y="657" width="47" height="7" fill="url(#steelH)"/>
    <!-- pressure tank -->
    <rect x="305" y="648" width="5" height="10" fill="url(#steelV)"/>
    <rect x="301.7" y="602.7" width="10.6" height="5.5" rx="2.5" fill="#222"/>
    <path d="M290,618 Q290,606.3 307.6,606.3 Q325.3,606.3 325.3,618 L325.3,641 Q325.3,650 307.6,650 Q290,650 290,641 Z" fill="url(#tankG)" stroke="#454c63" stroke-width="0.7"/>
    <rect x="292" y="630.5" width="31" height="0.8" fill="#7c87a3"/>
    <rect x="292" y="639.3" width="31" height="0.8" fill="#7c87a3"/>
    <rect x="292" y="613" width="31" height="0.8" fill="#7682a0"/>
    <rect x="322" y="619" width="3" height="11" fill="#e8e8e8"/>
    <!-- gauge -->
    <circle cx="309.3" cy="664.6" r="5.2" fill="#f2f2f2" stroke="#5a5a5a" stroke-width="1.2"/>
    <!-- right flange -->
    <rect x="330" y="651" width="10" height="19.5" rx="4" fill="url(#steelV)"/>
  </g>
  <g id="valve">
    <rect x="195.5" y="653" width="14" height="15" fill="#1a4fb6"/>
    <path d="M199.5,639.5 Q203,638 206.5,639.5 L207.5,644 Q210,648 209.5,656 L209,664 L197,664 L196.5,656 Q196,648 198.5,644 Z" fill="#1f68d4"/>
    <path d="M201.5,641 L204,641 L205,652 L200.5,652 Z" fill="#4a8eea"/>
    <rect x="201.2" y="634" width="3" height="5.5" fill="#3a7ad8"/>
    <ellipse cx="203" cy="632.2" rx="10.8" ry="3" fill="#1d66d2"/>
    <ellipse cx="204" cy="631.8" rx="6" ry="1.3" fill="#63a3ee"/>
    <rect x="192.8" y="651" width="3.6" height="21.5" rx="1.6" fill="#1a5cc8"/>
    <rect x="209" y="651" width="3.8" height="21.5" rx="1.6" fill="#1a5cc8"/>
    <rect x="196.4" y="657" width="12.6" height="3" fill="#2f78de"/>
  </g>
</defs>
<!-- red triangle -->
<polygon points="383,225 408,225 395.5,238.5" fill="#e51f28"/>
<!-- floor slab -->
<rect x="32" y="690" width="751" height="25" fill="url(#slab)"/>

<!-- ===== TANKS ===== -->
<g id="tankTL">
<rect x="34" y="427" width="157" height="263" fill="#585656"/>
<path d="M42,426 L183,426 L183,666 L168,681.5 L57,681.5 L42,666 Z" fill="#fff"/>
<path d="M42,466 L183,466 L183,666 L168,681.5 L57,681.5 L42,666 Z" fill="#84c7e5"/>
</g>
<g id="tankTR">
<rect x="432.5" y="427.3" width="156" height="262.2" fill="#585656"/>
<path d="M440.5,426 L581,426 L581,664.5 L566,681.5 L455,681.5 L440.5,664.5 Z" fill="#fff"/>
<path d="M440.5,466 L581,466 L581,664.5 L566,681.5 L455,681.5 L440.5,664.5 Z" fill="#84c7e5"/>
</g>
<g id="tankBL">
<rect x="32.5" y="861" width="157.2" height="262.5" fill="#585656"/>
<path d="M41,860 L182,860 L182,1097 L167,1116 L56,1116 L41,1097 Z" fill="#fff"/>
<path d="M41,923 L182,923 L182,1097 L167,1116 L56,1116 L41,1097 Z" fill="#84c7e5"/>
</g>
<g id="tankBR">
<rect x="460.3" y="861.5" width="156.4" height="262" fill="#585656"/>
<path d="M468,860 L609,860 L609,1097 L594,1116 L483,1116 L468,1097 Z" fill="#fff"/>
<path d="M468,922 L609,922 L609,1097 L594,1116 L483,1116 L468,1097 Z" fill="#84c7e5"/>
</g>
<!-- waves -->
<g clip-path="url(#clipTL)"><use href="#wave"/></g>
<text x="59.5" y="489" font-family="Liberation Sans, sans-serif" font-size="17" font-weight="bold" fill="#8f9cbc" stroke="#8f9cbc" stroke-width="0.6" opacity="0.32" letter-spacing="2.3" filter="url(#wmblur)">中赢供水</text>
<g clip-path="url(#clipTR)"><use href="#wave" transform="translate(398.5,0)"/></g>
<g clip-path="url(#clipBL)"><use href="#wave" transform="translate(-1,464)"/></g>
<g clip-path="url(#clipBR)"><use href="#wave" transform="translate(426,463.5)"/></g>
<!-- platforms -->
<rect x="182" y="959" width="166.6" height="9" fill="#585656"/>
<rect x="609" y="958.7" width="163.7" height="9.3" fill="#585656"/>


<!-- ===== PIPES ===== -->
<!-- TL -->
<rect x="175" y="655.7" width="58" height="12.1" fill="url(#pipeH)"/>
<!-- TR -->
<rect x="480.7" y="391.7" width="15.9" height="266.8" fill="url(#pipeV)"/>
<rect x="602.4" y="391.7" width="13.9" height="273.3" fill="url(#pipeV)"/>
<rect x="608" y="650" width="34" height="17.6" fill="url(#pipeH)" opacity="0.7"/>
<rect x="480.7" y="391.7" width="137.6" height="15.6" fill="url(#pipeH)"/>
<rect x="607" y="391.7" width="11.3" height="15.6" fill="url(#elbowG)"/>
<!-- BL -->
<rect x="84.7" y="922.2" width="17.1" height="128.8" fill="url(#pipeV)"/>
<rect x="84.7" y="922.2" width="160" height="12" fill="url(#pipeH)"/>
<path d="M81,1051 L104.7,1051 L104.7,1054 Q104.7,1065 92.8,1065 Q81,1065 81,1054 Z" fill="#2c2c2c"/>
<rect x="81.5" y="1051.2" width="22.8" height="3.6" rx="1.8" fill="#3c3c3c"/><g fill="#9a9a9a"><circle cx="87.5" cy="1058.6" r="0.9"/><circle cx="91.5" cy="1058.6" r="0.9"/><circle cx="95.5" cy="1058.6" r="0.9"/><circle cx="99.5" cy="1058.6" r="0.9"/><circle cx="89.5" cy="1061.8" r="0.9"/><circle cx="93.5" cy="1061.8" r="0.9"/><circle cx="97.5" cy="1061.8" r="0.9"/></g>
<!-- BR -->
<rect x="512" y="921" width="16.6" height="131.7" fill="url(#pipeV)"/>
<rect x="512" y="921.5" width="154" height="13.5" fill="url(#pipeH)"/>

<!-- measurement line -->
<g stroke="#d42a33" stroke-width="2.3" fill="none">
<path d="M121,905 L121,922 M121,934.2 L121,1110"/>
<path d="M115.7,905 L126.3,905 M115.7,1109.3 L126.3,1109.3"/>
</g>


<!-- rotated label -->
<text transform="translate(130.5,983) rotate(90)" font-family="Liberation Sans, sans-serif" font-size="18" font-weight="bold" letter-spacing="2.2" fill="#d9262c" stroke="#d9262c" stroke-width="0.5">5米之内</text>
<!-- ===== PUMPS ===== -->
<use href="#pump"/>
<use href="#valve"/>
<use href="#pump" transform="translate(409,0)"/>
<use href="#pump" transform="translate(11.8,267.5)"/>
<use href="#valve" transform="translate(12.4,267.5)"/>
<use href="#pump" transform="translate(432.6,267.2)"/>
<use href="#valve" transform="translate(432.6,267.5)"/>


<!-- watermarks -->
<g font-family="Liberation Sans, sans-serif" font-weight="bold" fill="#f07070" stroke="#f07070" stroke-width="0.8" filter="url(#wmblur)">
<text transform="translate(223,659) scale(1,0.8)" font-size="19" letter-spacing="0" opacity="0.45">中赢供水</text>
<text transform="translate(592,665.5) scale(1,0.85)" font-size="19" opacity="0.14">中赢供水</text>
<text transform="translate(168.5,934) scale(1,0.85)" font-size="19" opacity="0.42">中赢供水</text>
<text transform="translate(549,934) scale(1,0.72)" font-size="19" opacity="0.38">中赢供水</text>
</g>
<!-- check / cross circles -->
<circle cx="153.7" cy="654.4" r="21.3" fill="#e8202a"/>
<path d="M139.2,654.4 L148.9,663.5 L166.6,645.8" fill="none" stroke="#fff" stroke-width="3.2" stroke-linecap="round"/>
<circle cx="551.6" cy="653.7" r="21.3" fill="#6c6a6a"/>
<path d="M541.1,643.5 L563.5,665.8 M563.5,643.5 L541.1,665.8" fill="none" stroke="#fff" stroke-width="3"/>
<circle cx="152" cy="1088.7" r="21" fill="#e8202a"/>
<path d="M137.5,1088.7 L147.2,1097.8 L164.9,1080.1" fill="none" stroke="#fff" stroke-width="3.2" stroke-linecap="round"/>
<circle cx="579.7" cy="1088" r="21.1" fill="#6c6a6a"/>
<path d="M569.2,1077.8 L591.6,1100.1 M591.6,1077.8 L569.2,1100.1" fill="none" stroke="#fff" stroke-width="3"/>
</svg>

<div class="t" id="title" style="left:187.5px;top:62.5px;font-size:64px;letter-spacing:7.1px;font-weight:bold;color:#111;-webkit-text-stroke:1.4px #111;transform:scale(1,1.02)">产品使用事项</div>
<div class="t" id="sub" style="left:85px;top:165.5px;font-size:33px;letter-spacing:1.0px;color:#222">按照如下步骤进行操作 安装前请勿插电源</div>

<div class="t" style="left:148.5px;top:288px;font-size:30.5px;font-weight:bold;letter-spacing:0.5px;color:#e0232b;-webkit-text-stroke:0.8px #e0232b;transform:scaleY(0.9)">正确安装</div>
<div class="t" style="left:121px;top:326px;font-size:15px;color:#333">自来水或者水池能流到泵里</div>

<div class="t" style="left:503.5px;top:286.5px;font-size:30.5px;letter-spacing:0.95px;color:#222;-webkit-text-stroke:0.4px #222;transform:scaleY(0.94)">错误安装</div>
<div class="t" style="left:498.5px;top:326px;font-size:15px;letter-spacing:0.25px;color:#333">进水管不能高于水位</div>

<div class="t" style="left:210.5px;top:1017px;font-size:30.5px;font-weight:bold;letter-spacing:0.5px;color:#e0232b;-webkit-text-stroke:0.8px #e0232b;transform:scaleY(0.9)">正确安装</div>
<div class="t" style="left:219.5px;top:1053px;font-size:15px;letter-spacing:0.27px;color:#333">底部需安装底阀</div>

<div class="t" style="left:629px;top:1014.5px;font-size:30.5px;letter-spacing:0.95px;color:#222;-webkit-text-stroke:0.4px #222;transform:scaleY(0.94)">错误安装</div>
<div class="t" style="left:629px;top:1053px;font-size:15px;color:#333">底部没有安装底阀</div>

</body></html>
